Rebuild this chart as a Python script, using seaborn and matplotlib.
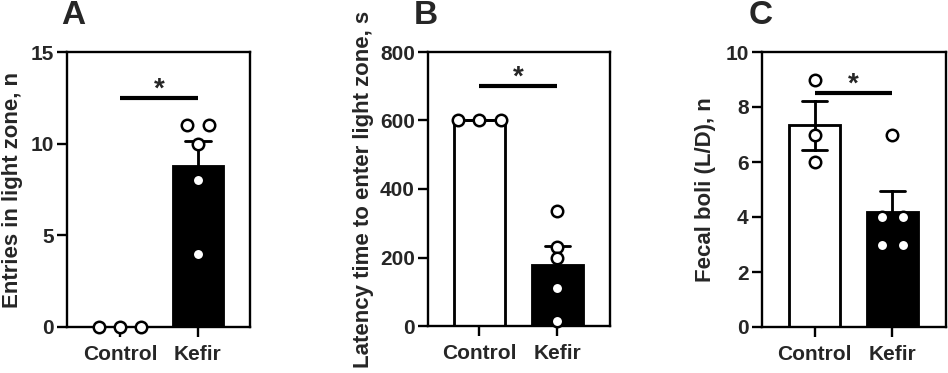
import numpy as np
import pandas as pd
import matplotlib
matplotlib.use("Agg")
import matplotlib.pyplot as plt
import seaborn as sns

groups = ["Control", "Kefir"]

# Panel A: entries in light zone
a_control = [0, 0, 0]
a_kefir = [11, 11, 10, 8, 4]
# Panel B: latency to enter light zone (s)
b_control = [600, 600, 600]
b_kefir = [335, 232, 198, 110, 15]
# Panel C: fecal boli
c_control = [9, 7, 6]
c_kefir = [7, 4, 4, 3, 3]

panel_letters = ["A", "B", "C"]
ylabels = ["Entries in light zone, n", "Latency time to enter light zone, s", "Fecal boli (L/D), n"]
yticks = [[0, 5, 10, 15], [0, 200, 400, 600, 800], [0, 2, 4, 6, 8, 10]]
sig_levels = [12.5, 700, 8.5]
sig_labels = ["*", "*", "*"]

sns.set_theme(style="ticks")
plt.rcParams["font.family"] = ["Liberation Sans", "DejaVu Sans"]
plt.rcParams["font.weight"] = "bold"

W, H = 948, 373
fig = plt.figure(figsize=(W / 100, H / 100), dpi=100)

# axes boxes in pixels: left, right, top, bottom ; x-limits
boxes = [(67, 250, 52, 327), (428, 610, 52, 326), (761.7, 946, 52, 327)]
xlims = [(-0.68, 1.667), (-0.66, 1.673), (-0.677, 1.686)]
label_x = [13, 363, 705]
letter_pos = [(61, 16), (414, 16), (749, 16)]

datasets = [(a_control, a_kefir), (b_control, b_kefir), (c_control, c_kefir)]
LW = 1.7


def swarm_offsets(vals, spacing=0.27):
    vals = np.asarray(vals, dtype=float)
    offs = np.zeros(len(vals))
    for v in np.unique(vals):
        idx = np.where(vals == v)[0]
        n = len(idx)
        offs[idx] = (np.arange(n) - (n - 1) / 2) * spacing
    return offs


for i, (ctrl, kef) in enumerate(datasets):
    l, r, t, b = boxes[i]
    ax = fig.add_axes([l / W, (H - b) / H, (r - l) / W, (b - t) / H])
    df = pd.DataFrame({
        "group": ["Control"] * len(ctrl) + ["Kefir"] * len(kef),
        "value": list(ctrl) + list(kef),
    })
    sns.barplot(data=df, x="group", y="value", hue="group", order=groups,
                palette={"Control": "white", "Kefir": "black"}, legend=False,
                edgecolor="black", linewidth=LW * 1.2, width=0.65,
                errorbar="se", capsize=0.33,
                err_kws={"color": "black", "linewidth": LW * 1.2}, ax=ax)
    # individual points
    xs = []
    ys = []
    for gi, vals in enumerate([ctrl, kef]):
        offs = swarm_offsets(vals)
        xs.extend(gi + offs)
        ys.extend(vals)
    ax.scatter(xs, ys, s=68, facecolor="white", edgecolor="black",
               linewidth=1.8, zorder=5, clip_on=False)

    ax.set_xlim(*xlims[i])
    ax.set_ylim(yticks[i][0], yticks[i][-1])
    ax.set_yticks(yticks[i])
    ax.set_xlabel("")
    ax.set_ylabel("")
    for sp in ax.spines.values():
        sp.set_visible(True)
        sp.set_linewidth(LW)
        sp.set_color("black")
    ax.tick_params(axis="both", length=7, width=LW, color="black",
                   labelsize=15, pad=2.5)
    ax.tick_params(axis="x", pad=6)
    for lab in ax.get_xticklabels() + ax.get_yticklabels():
        lab.set_fontweight("bold")

    # significance bar
    ax.plot([0, 1], [sig_levels[i]] * 2, color="black", linewidth=3.0,
            solid_capstyle="butt")
    ax.annotate(sig_labels[i], xy=(0.5, sig_levels[i]), xytext=(0, 1),
                textcoords="offset points", ha="center", va="baseline",
                fontsize=20, fontweight="bold")

    fig.text(label_x[i] / W, 1 - ((t + b) / 2) / H, ylabels[i], rotation=90,
             ha="center", va="center", fontsize=16, fontweight="bold")
    fig.text(letter_pos[i][0] / W, 1 - letter_pos[i][1] / H, panel_letters[i],
             ha="left", va="center", fontsize=24, fontweight="bold")

fig.savefig("out.png", dpi=100)
